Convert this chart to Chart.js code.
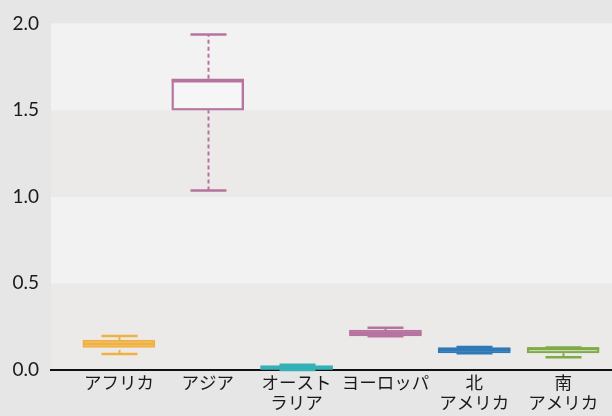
<!DOCTYPE html>
<html><head><meta charset="utf-8">
<script src="https://cdn.jsdelivr.net/npm/chart.js@4"></script>
<style>html,body{margin:0;padding:0;background:#e6e6e6;}#wrap{width:612px;height:416px;}</style>
</head><body><div id="wrap"><canvas id="c" width="612" height="416"></canvas></div>
<script>
const categories = ['アフリカ', 'アジア', ['オースト', 'ラリア'], 'ヨーロッパ', ['北', 'アメリカ'], ['南', 'アメリカ']];
const whiskerLow  = [0.092, 1.036, 0.000, 0.195, 0.097, 0.073];
const q1          = [0.131, 1.499, 0.003, 0.197, 0.098, 0.098];
const median      = [0.152, 1.667, 0.012, 0.212, 0.118, 0.122];
const q3          = [0.172, 1.680, 0.026, 0.230, 0.129, 0.129];
const whiskerHigh = [0.196, 1.936, 0.030, 0.244, 0.133, 0.130];
const colors = ['#f0b142', '#b5739e', '#35b1b6', '#b5739e', '#2f79b6', '#7eab47'];
const yTicks = [0, 0.5, 1.0, 1.5, 2.0];

const positions = categories.map((_, i) => i);

const boxPlugin = {
  id: 'boxparts',
  beforeDraw(chart) {
    const {ctx, chartArea, scales: {y}} = chart;
    ctx.save();
    for (let i = 0; i < yTicks.length - 1; i++) {
      const top = y.getPixelForValue(yTicks[i + 1]);
      const bot = y.getPixelForValue(yTicks[i]);
      ctx.fillStyle = (i % 2 === 0) ? '#ebeae8' : '#f2f2f2';
      ctx.fillRect(chartArea.left, top, chartArea.right - chartArea.left, bot - top);
    }
    ctx.restore();
  },
  beforeDatasetsDraw(chart) {
    const {ctx, scales: {x, y}} = chart;
    ctx.save();
    positions.forEach((p, i) => {
      const cx = Math.round(x.getPixelForValue(p)) + 0.5;
      ctx.strokeStyle = colors[i];
      ctx.lineWidth = 2;
      ctx.setLineDash([4, 3]);
      ctx.beginPath();
      ctx.moveTo(cx, y.getPixelForValue(whiskerLow[i]));
      ctx.lineTo(cx, y.getPixelForValue(q1[i]));
      ctx.moveTo(cx, y.getPixelForValue(q3[i]));
      ctx.lineTo(cx, y.getPixelForValue(whiskerHigh[i]));
      ctx.stroke();
      ctx.setLineDash([]);
      const hw = 18;
      ctx.lineWidth = 2.5;
      ctx.beginPath();
      ctx.moveTo(cx - hw, y.getPixelForValue(whiskerLow[i]));
      ctx.lineTo(cx + hw, y.getPixelForValue(whiskerLow[i]));
      ctx.moveTo(cx - hw, y.getPixelForValue(whiskerHigh[i]));
      ctx.lineTo(cx + hw, y.getPixelForValue(whiskerHigh[i]));
      ctx.stroke();
    });
    ctx.restore();
  },
  afterDatasetsDraw(chart) {
    const {ctx, scales: {x, y}} = chart;
    ctx.save();
    positions.forEach((p, i) => {
      const cx = x.getPixelForValue(p);
      ctx.strokeStyle = colors[i];
      ctx.lineWidth = 3;
      ctx.beginPath();
      ctx.moveTo(cx - 36, y.getPixelForValue(median[i]));
      ctx.lineTo(cx + 36, y.getPixelForValue(median[i]));
      ctx.stroke();
    });
    ctx.restore();
  }
};

new Chart(document.getElementById('c'), {
  type: 'bar',
  data: {
    datasets: [{
      data: positions.map((p, i) => ({x: p, y: [q1[i], q3[i]]})),
      backgroundColor: 'rgba(255,255,255,0.35)',
      borderColor: colors,
      borderWidth: 2,
      borderSkipped: false,
      barThickness: 72
    }]
  },
  options: {
    responsive: false,
    animation: false,
    layout: {padding: {top: 14, right: 0, left: 0, bottom: 0}},
    plugins: {legend: {display: false}, tooltip: {enabled: false}},
    scales: {
      x: {
        type: 'linear',
        offset: false,
        min: -0.764, max: 5.55,
        afterBuildTicks(scale) { scale.ticks = positions.map(v => ({value: v})); },
        afterFit(scale) { scale.height = 46; },
        grid: {display: false, drawTicks: false},
        border: {display: true, color: '#111', width: 2},
        ticks: {
          autoSkip: false, maxRotation: 0, padding: 3,
          color: '#1a1a1a',
          font: {family: '"Noto Sans CJK JP"', size: 17.5, lineHeight: 1.12},
          callback: (v) => categories[v]
        }
      },
      y: {
        min: 0, max: 2,
        afterBuildTicks(scale) { scale.ticks = yTicks.map(v => ({value: v})); },
        afterFit(scale) { scale.width = 51; },
        grid: {display: false, drawTicks: false},
        border: {display: false},
        ticks: {
          padding: 12, color: '#1a1a1a',
          font: {family: 'Lato', size: 19},
          callback: (v) => v.toFixed(1)
        }
      }
    }
  },
  plugins: [boxPlugin]
});
</script></body></html>
